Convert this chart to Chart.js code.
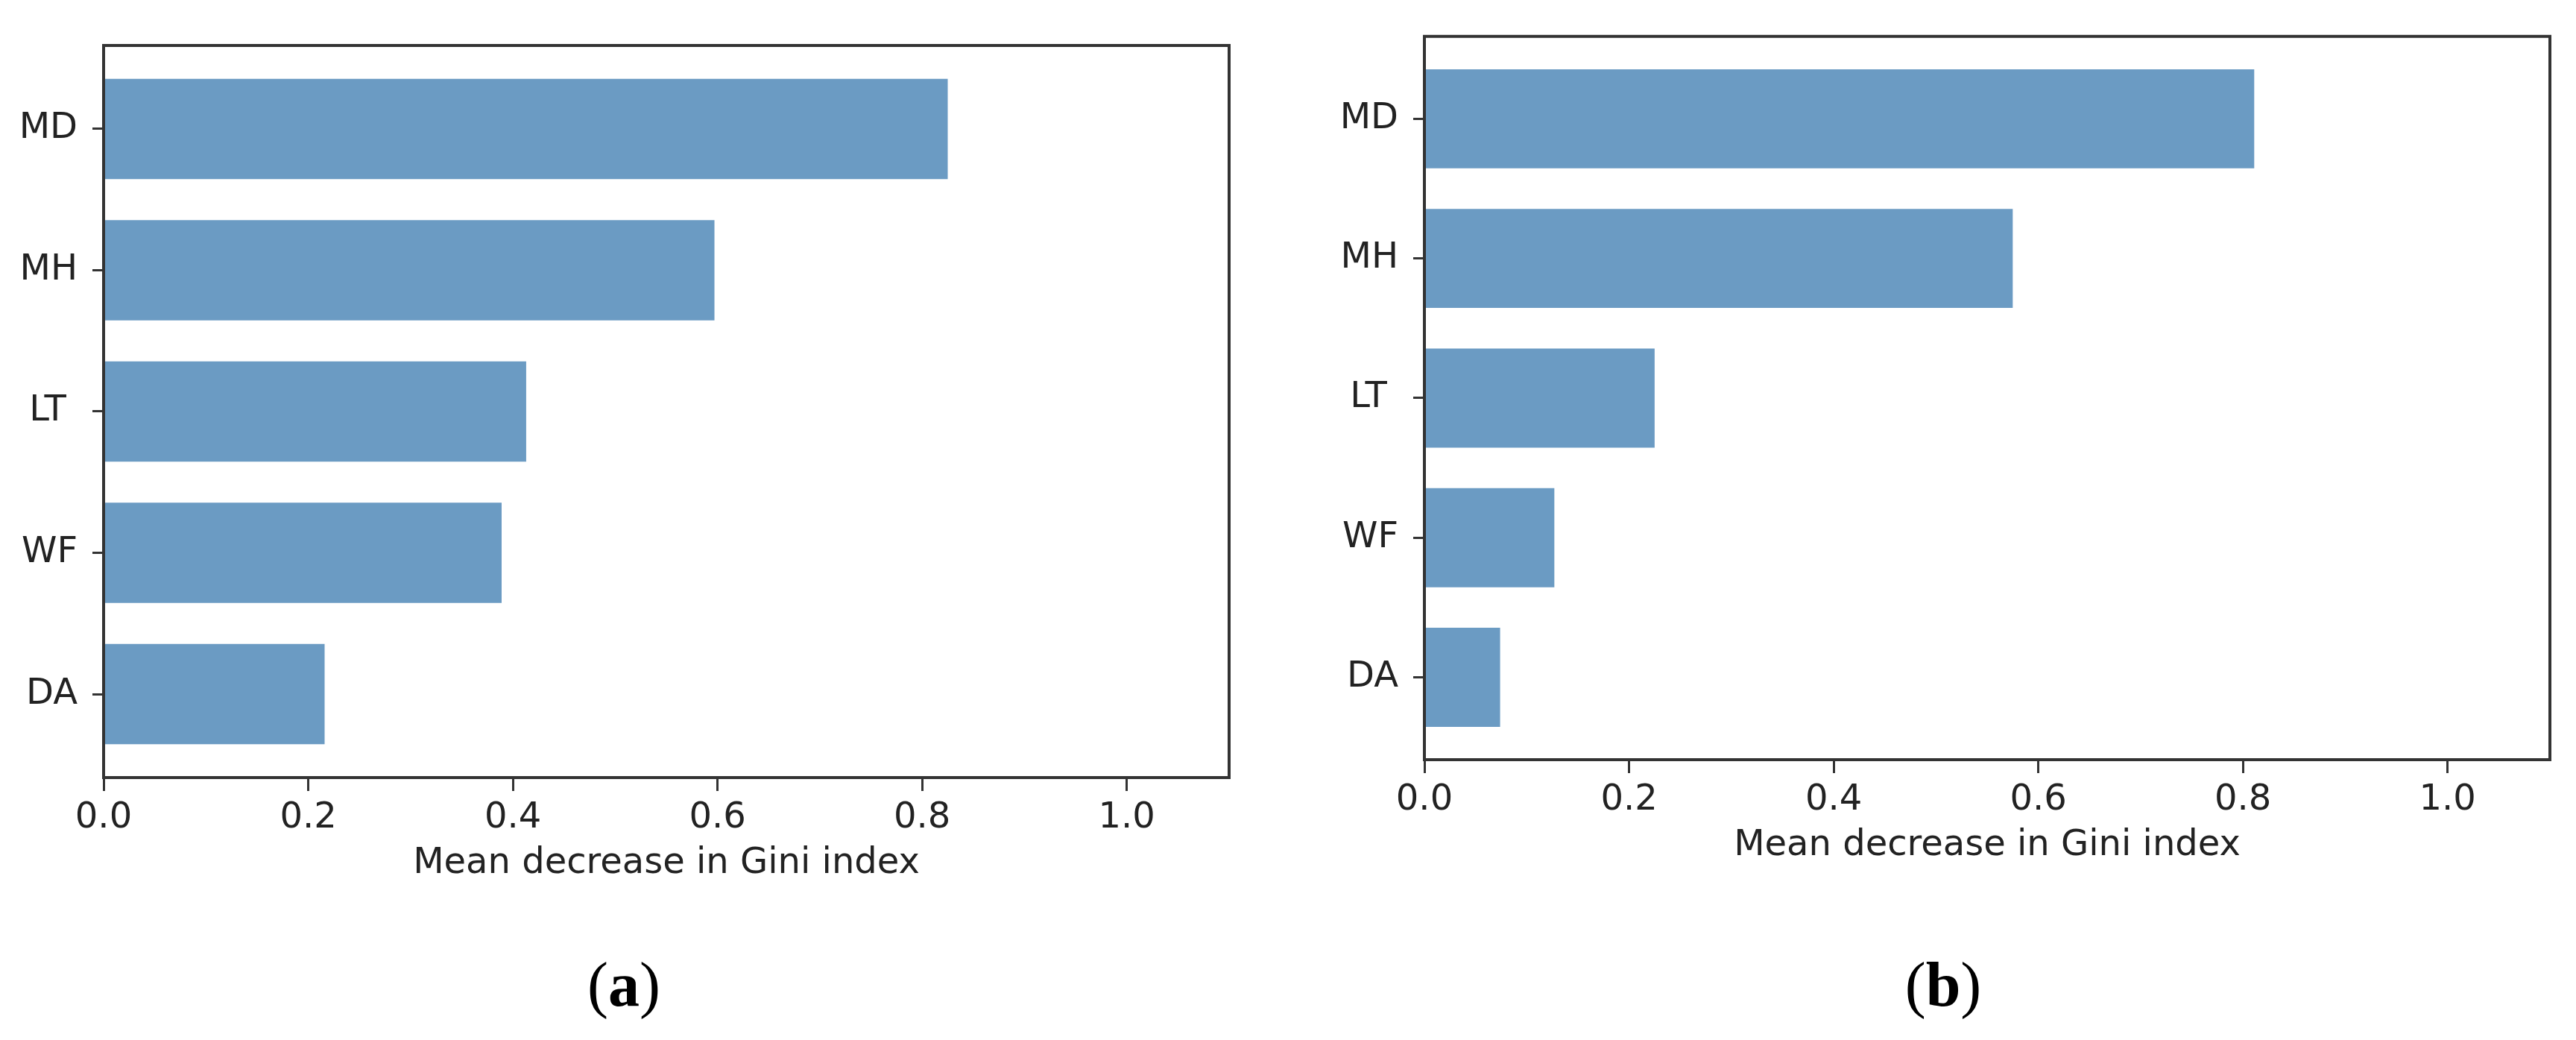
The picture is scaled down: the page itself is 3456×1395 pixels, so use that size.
<!DOCTYPE html>
<html>
<head>
<meta charset="utf-8">
<script src="https://cdn.jsdelivr.net/npm/chart.js@4.4.1/dist/chart.umd.min.js"></script>
<style>
    body { margin: 0; background: #fff; width: 3456px; height: 1395px; position: relative; overflow: hidden; }
    canvas { position: absolute; }
    .cap { position: absolute; width: 400px; text-align: center; font-family: "Liberation Serif", "Times New Roman", serif; font-size: 84px; line-height: 84px; color: #000; }
</style>
</head>
<body>
<canvas id="chartA" width="1700" height="1203" style="left:0px;top:0px"></canvas>
<canvas id="chartB" width="1696" height="1179" style="left:1760px;top:0px"></canvas>
<div class="cap" style="left:637px;top:1279px">(<b>a</b>)</div>
<div class="cap" style="left:2407px;top:1279px">(<b>b</b>)</div>
<script>
// Data
var categories = ['MD', 'MH', 'LT ', 'WF', 'DA'];
var giniA = [0.825, 0.597, 0.413, 0.389, 0.216];
var giniB = [0.811, 0.575, 0.225, 0.127, 0.074];
var xTicks = [0.0, 0.2, 0.4, 0.6, 0.8, 1.0];
var xMax = 1.1;
var axisTitle = 'Mean decrease in Gini index';

// Draw the box around the plot area (matplotlib spines)
var framePlugin = {
    id: 'frame',
    afterDraw: function (chart) {
        var a = chart.chartArea;
        var ctx = chart.ctx;
        ctx.save();
        ctx.strokeStyle = '#333';
        ctx.lineWidth = 4;
        ctx.strokeRect(a.left, a.top, a.right - a.left, a.bottom - a.top);
        ctx.restore();
    }
};

function makeChart(id, values, yAxisWidth, padTop, padRight) {
    var ctx = document.getElementById(id).getContext('2d');
    return new Chart(ctx, {
        type: 'bar',
        data: {
            labels: categories.map(function (c, i) { return i; }),
            datasets: [{
                data: values,
                backgroundColor: 'rgba(70, 130, 180, 0.8)',
                borderWidth: 0,
                categoryPercentage: 1.0,
                barPercentage: 0.71
            }]
        },
        options: {
            indexAxis: 'y',
            responsive: false,
            animation: false,
            devicePixelRatio: 1,
            layout: { padding: { top: padTop, right: padRight, left: 0, bottom: 0 } },
            plugins: {
                legend: { display: false },
                tooltip: { enabled: false }
            },
            scales: {
                x: {
                    type: 'linear',
                    min: 0,
                    max: xMax,
                    afterBuildTicks: function (scale) {
                        scale.ticks = xTicks.map(function (v) { return { value: v }; });
                    },
                    afterFit: function (scale) { scale.height = 160; },
                    border: { display: false },
                    grid: {
                        drawOnChartArea: false,
                        drawTicks: true,
                        tickLength: 18,
                        tickWidth: 3,
                        tickColor: '#333'
                    },
                    ticks: {
                        autoSkip: false,
                        maxRotation: 0,
                        padding: 8,
                        color: '#222',
                        font: { family: 'DejaVu Sans', size: 48 },
                        callback: function (v) { return Number(v).toFixed(1); }
                    },
                    title: {
                        display: true,
                        text: axisTitle,
                        color: '#222',
                        font: { family: 'DejaVu Sans', size: 48 },
                        padding: { top: 0, bottom: 16 }
                    }
                },
                y: {
                    type: 'linear',
                    reverse: true,
                    offset: false,
                    min: -0.5905,
                    max: categories.length - 1 + 0.5905,
                    afterBuildTicks: function (scale) {
                        scale.ticks = categories.map(function (c, i) { return { value: i }; });
                    },
                    afterFit: function (scale) { scale.width = yAxisWidth; },
                    border: { display: false },
                    grid: {
                        offset: false,
                        drawOnChartArea: false,
                        drawTicks: true,
                        tickLength: 15,
                        tickWidth: 3,
                        tickColor: '#333'
                    },
                    ticks: {
                        autoSkip: false,
                        padding: 20,
                        color: '#222',
                        font: { family: 'DejaVu Sans', size: 48 },
                        callback: function (v) { return categories[v]; }
                    }
                }
            }
        },
        plugins: [framePlugin]
    });
}

var chartA = makeChart('chartA', giniA, 139, 61, 51);
var chartB = makeChart('chartB', giniB, 151, 36, 35);
</script>
</body>
</html>
